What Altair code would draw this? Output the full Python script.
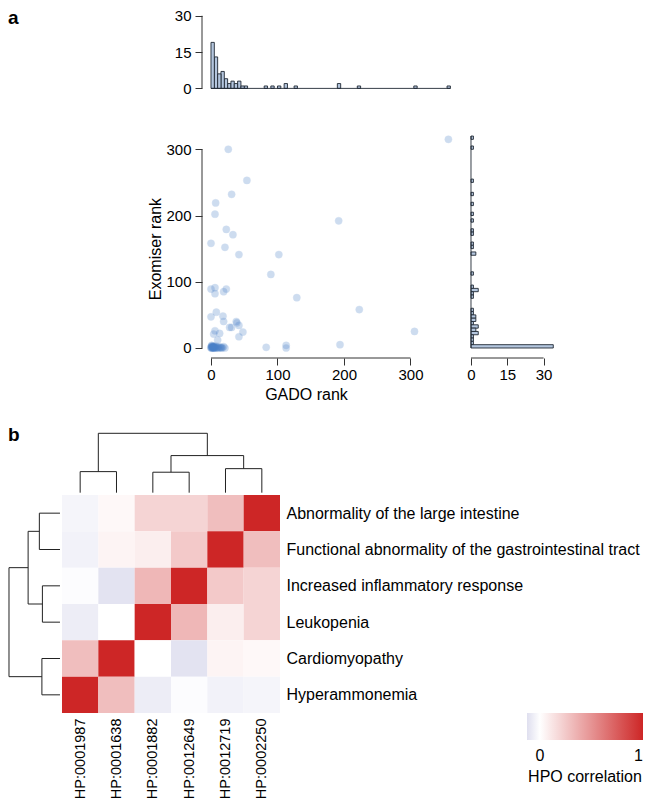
import altair as alt
import pandas as pd

FONT = "Liberation Sans"
AX = "#333333"

# ---------------- panel a data ----------------
gado_rank = [357, 26, 54, 31, 7, 6, 192, 23, 33, 0, 21, 42, 102, 90, 0, 6, 6, 19, 23, 129,
             223, 8, 0, 18, 19, 38, 39, 42, 28, 31, 48, 6, 4, 13, 42, 10, 306, 194, 83, 113, 113,
             0, 0, 1, 1, 1, 2, 2, 2, 3, 3, 3, 4, 4, 4, 1,
             5, 5, 6, 6, 7, 8, 9, 10, 11, 12, 14, 15, 16, 17, 19, 21]
exomiser_rank = [315, 300, 253, 232, 219, 202, 192, 179, 171, 158, 152, 141, 141, 111, 89, 91, 82, 85, 89, 76,
                 58, 54, 47, 48, 40, 40, 38, 34, 31, 31, 24, 26, 21, 22, 17, 12, 25, 5, 1, 4, 0,
                 0, 1, 0, 2, 3, 0, 1, 2, 0, 1, 3, 0, 2, 1, 4,
                 0, 2, 1, 0, 3, 0, 1, 0, 2, 0, 1, 0, 1, 0, 2, 0]
scatter_ticks = [0, 100, 200, 300]
hist_ticks = [0, 15, 30]

# ---------------- panel b data ----------------
row_terms = ["Abnormality of the large intestine",
             "Functional abnormality of the gastrointestinal tract",
             "Increased inflammatory response",
             "Leukopenia",
             "Cardiomyopathy",
             "Hyperammonemia"]
col_ids = ["HP:0001987", "HP:0001638", "HP:0001882", "HP:0012649", "HP:0012719", "HP:0002250"]
corr = [
    [-0.04, 0.03, 0.20, 0.20, 0.30, 1.00],
    [-0.05, 0.05, 0.08, 0.25, 1.00, 0.30],
    [-0.01, -0.11, 0.33, 1.00, 0.25, 0.20],
    [-0.07, 0.00, 1.00, 0.33, 0.08, 0.20],
    [0.30, 1.00, 0.00, -0.11, 0.05, 0.03],
    [1.00, 0.30, -0.07, -0.01, -0.05, -0.04],
]
# hclust-style merge tables: negative = leaf (1-based position), positive = earlier merge
col_merges = [[-3, -4, 0.345], [-1, -2, 0.355], [-5, -6, 0.405], [1, 3, 0.625], [2, 4, 1.0]]
row_merges = [[-3, -4, 0.345], [-5, -6, 0.355], [-1, -2, 0.405], [1, 3, 0.625], [2, 4, 1.0]]
legend_ticks = [0, 1]


def dendro_segments(merges):
    pos, hgt, segs = {}, {}, []

    def node(ref):
        if ref < 0:
            return -ref - 1 + 0.5, 0.0
        return pos[ref], hgt[ref]

    for k, (a, b, h) in enumerate(merges, start=1):
        pa, ha = node(a)
        pb, hb = node(b)
        segs.append(dict(p1=pa, p2=pa, h1=ha, h2=h))
        segs.append(dict(p1=pb, p2=pb, h1=hb, h2=h))
        segs.append(dict(p1=pa, p2=pb, h1=h, h2=h))
        pos[k] = (pa + pb) / 2
        hgt[k] = h
    return pd.DataFrame(segs)


def label_layer(text, dy=0, size=19):
    return alt.Chart(pd.DataFrame({"t": [text]})).mark_text(
        align="left", baseline="top", fontSize=size, fontWeight="bold", font=FONT, color="black"
    ).encode(text="t:N", x=alt.value(0), y=alt.value(dy))


pts = pd.DataFrame({"gado": gado_rank, "exo": exomiser_rank})
rng = pd.DataFrame({"lo": [min(hist_ticks)], "hi": [max(hist_ticks)]})
srng = pd.DataFrame({"lo": [min(scatter_ticks)], "hi": [max(scatter_ticks)]})

HIST_FILL = "#b4c6de"
HIST_STROKE = "#1f2833"

W_A, H_TOP, H_SC = 546, 122, 227
AXIS_X = 194  # in-chart pixel position of the detached left axis
xs = alt.Scale(domain=[-305.26, 515.79], nice=False, zero=False)
ys = alt.Scale(domain=[-15.1, 327.6], nice=False, zero=False)
top_cnt = alt.Scale(domain=[-17.6, 32.8], nice=False, zero=False)
right_cnt = alt.Scale(domain=[-191.32, 34.30], nice=False, zero=False)

ax_top_y = alt.Axis(values=hist_ticks, tickSize=7, labelPadding=4, domain=False, grid=False, title=None,
                    labelFontSize=15, offset=-AXIS_X)
ax_sc_x = alt.Axis(values=scatter_ticks, tickSize=7, labelPadding=2, domain=False, grid=False,
                   title="GADO rank", titleX=298, titleY=36, titleBaseline="middle", labelFontSize=15,
                   titleFontSize=16, labelFlush=False, orient="bottom")
ax_sc_y = alt.Axis(values=scatter_ticks, tickSize=7, labelPadding=4, domain=False, grid=False,
                   title="Exomiser rank", titleX=-47, titleY=117.6, titleBaseline="middle", labelFontSize=15,
                   titleFontSize=16, offset=-AXIS_X, orient="left")
ax_r_x = alt.Axis(values=hist_ticks, tickSize=7, labelPadding=2, domain=False, grid=False, title=None,
                  labelFontSize=15, labelFlush=False, orient="bottom")

# ---- row A: top histogram ----
tb = alt.Chart(pts).transform_bin(as_="xb", field="gado", bin=alt.Bin(step=5, extent=[0, 360])) \
    .transform_aggregate(n="count()", groupby=["xb", "xb_end"])
top_bars = tb.mark_rect(fill=HIST_FILL, stroke=HIST_STROKE, strokeWidth=0.9).encode(
    x=alt.X("xb:Q", scale=xs, axis=None), x2="xb_end:Q",
    y=alt.Y("n:Q", scale=top_cnt, axis=ax_top_y), y2=alt.datum(0))
top_base = tb.transform_aggregate(lo="min(xb)", hi="max(xb_end)").mark_rule(
    color=HIST_STROKE, strokeWidth=0.9).encode(
    x=alt.X("lo:Q", scale=xs, axis=None), x2="hi:Q", y=alt.Y(datum=0, scale=top_cnt, axis=ax_top_y))
top_axis = alt.Chart(rng).mark_rule(color=AX).encode(
    x=alt.value(AXIS_X), y=alt.Y("lo:Q", scale=top_cnt, axis=ax_top_y), y2="hi:Q")
row_a = alt.layer(label_layer("a"), top_bars, top_base, top_axis).properties(width=W_A, height=H_TOP)

# ---- row B: scatter + right histogram ----
scat_pts = alt.Chart(pts).mark_circle(size=52, color="#4a80c8", opacity=0.27, stroke="#4a80c8",
                                      strokeWidth=0.9, strokeOpacity=0.45).encode(
    x=alt.X("gado:Q", scale=xs, axis=ax_sc_x),
    y=alt.Y("exo:Q", scale=ys, axis=ax_sc_y))
scat_yline = alt.Chart(srng).mark_rule(color=AX).encode(
    x=alt.value(AXIS_X), y=alt.Y("lo:Q", scale=ys, axis=ax_sc_y), y2="hi:Q")
scat_xline = alt.Chart(srng).mark_rule(color=AX).encode(
    y=alt.value(H_SC), x=alt.X("lo:Q", scale=xs, axis=ax_sc_x), x2="hi:Q")
scatter = alt.layer(scat_pts, scat_yline, scat_xline)

rb = alt.Chart(pts).transform_bin(as_="yb", field="exo", bin=alt.Bin(step=5, extent=[0, 320])) \
    .transform_aggregate(n="count()", groupby=["yb", "yb_end"])
r_bars = rb.mark_rect(fill=HIST_FILL, stroke=HIST_STROKE, strokeWidth=0.9).encode(
    y=alt.Y("yb:Q", scale=ys, axis=ax_sc_y), y2="yb_end:Q",
    x=alt.X("n:Q", scale=right_cnt, axis=ax_r_x), x2=alt.datum(0))
r_base = rb.transform_aggregate(lo="min(yb)", hi="max(yb_end)").mark_rule(
    color=HIST_STROKE, strokeWidth=0.9).encode(
    y=alt.Y("lo:Q", scale=ys, axis=ax_sc_y), y2="hi:Q", x=alt.X(datum=0, scale=right_cnt, axis=ax_r_x))
r_axis = alt.Chart(rng).mark_rule(color=AX).encode(
    y=alt.value(H_SC), x=alt.X("lo:Q", scale=right_cnt, axis=ax_r_x), x2="hi:Q")
right_hist = alt.layer(r_bars, r_base, r_axis)

row_b = alt.layer(scatter, right_hist).resolve_scale(x="independent").properties(width=W_A, height=H_SC)

# ---- row C: top dendrogram ----
W_B, H_DEN, HM = 272, 137, 218
pos_scale = alt.Scale(domain=[-1.486, 6], nice=False, zero=False)
top_d = alt.Chart(dendro_segments(col_merges)).mark_rule(color="#222222", strokeWidth=1).encode(
    x=alt.X("p1:Q", scale=pos_scale, axis=None), x2="p2:Q",
    y=alt.Y("h1:Q", scale=alt.Scale(domain=[-0.0387, 2.268], nice=False, zero=False), axis=None), y2="h2:Q")
row_c = alt.layer(label_layer("b", dy=68), top_d).properties(width=W_B, height=H_DEN)

# ---- row D: left dendrogram + heatmap ----
row_scale = alt.Scale(domain=[0, 6], nice=False, zero=False, reverse=True)
centers = [i + 0.5 for i in range(6)]
col_expr = "[" + ",".join("'%s'" % c for c in col_ids) + "][floor(datum.value)]"
row_expr = "[" + ",".join("'%s'" % r for r in row_terms) + "][floor(datum.value)]"
ax_heat_x = alt.Axis(orient="bottom", values=centers, labelExpr=col_expr, labelAngle=270, labelFontSize=14.5,
                     labelPadding=5, ticks=False, domain=False, grid=False, title=None, labelFlush=False)
ax_heat_y = alt.Axis(orient="right", values=centers, labelExpr=row_expr, labelFontSize=16, labelPadding=6,
                     ticks=False, domain=False, grid=False, title=None, labelLimit=500)

heat_df = pd.DataFrame([{"r0": i, "r1": i + 1, "c0": j, "c1": j + 1, "value": corr[i][j]}
                        for i in range(len(row_terms)) for j in range(len(col_ids))])
heat = alt.Chart(heat_df).mark_rect(strokeWidth=0).encode(
    x=alt.X("c0:Q", scale=pos_scale, axis=ax_heat_x), x2="c1:Q",
    y=alt.Y("r0:Q", scale=row_scale, axis=ax_heat_y), y2="r1:Q",
    color=alt.Color("value:Q",
                    scale=alt.Scale(domain=[-0.125, 0, 1], range=["#dfdfef", "#ffffff", "#cd2626"],
                                    interpolate="rgb"),
                    legend=alt.Legend(orient="none", legendX=519, legendY=704, direction="horizontal",
                                      gradientLength=116, gradientThickness=27, gradientStrokeWidth=0,
                                      title="HPO correlation", titleOrient="bottom", titleAnchor="middle",
                                      titleFontSize=16, titleFontWeight="normal", titlePadding=5,
                                      labelFontSize=16, labelOffset=8, values=legend_ticks, format="d",
                                      padding=0, labelColor="black", titleColor="black")))
left_d = alt.Chart(dendro_segments(row_merges)).mark_rule(color="#222222", strokeWidth=1).encode(
    y=alt.Y("p1:Q", scale=row_scale, axis=ax_heat_y), y2="p2:Q",
    x=alt.X("h1:Q", scale=alt.Scale(domain=[-4.3137, 1.0196], nice=False, zero=False, reverse=True),
            axis=None), x2="h2:Q")
row_d = alt.layer(heat, left_d).resolve_scale(x="independent").properties(width=W_B, height=HM)

chart = alt.vconcat(row_a, row_b, row_c, row_d, spacing=0, bounds="flush").properties(
    padding=0, background="white"
).configure_view(stroke=None).configure_axis(
    labelFont=FONT, titleFont=FONT, labelColor="black", titleColor="black", tickColor=AX, tickWidth=1,
    titleFontWeight="normal"
).configure_legend(labelFont=FONT, titleFont=FONT).configure_text(font=FONT)

chart.save("out.html", embed_options={"renderer": "svg", "actions": False})
